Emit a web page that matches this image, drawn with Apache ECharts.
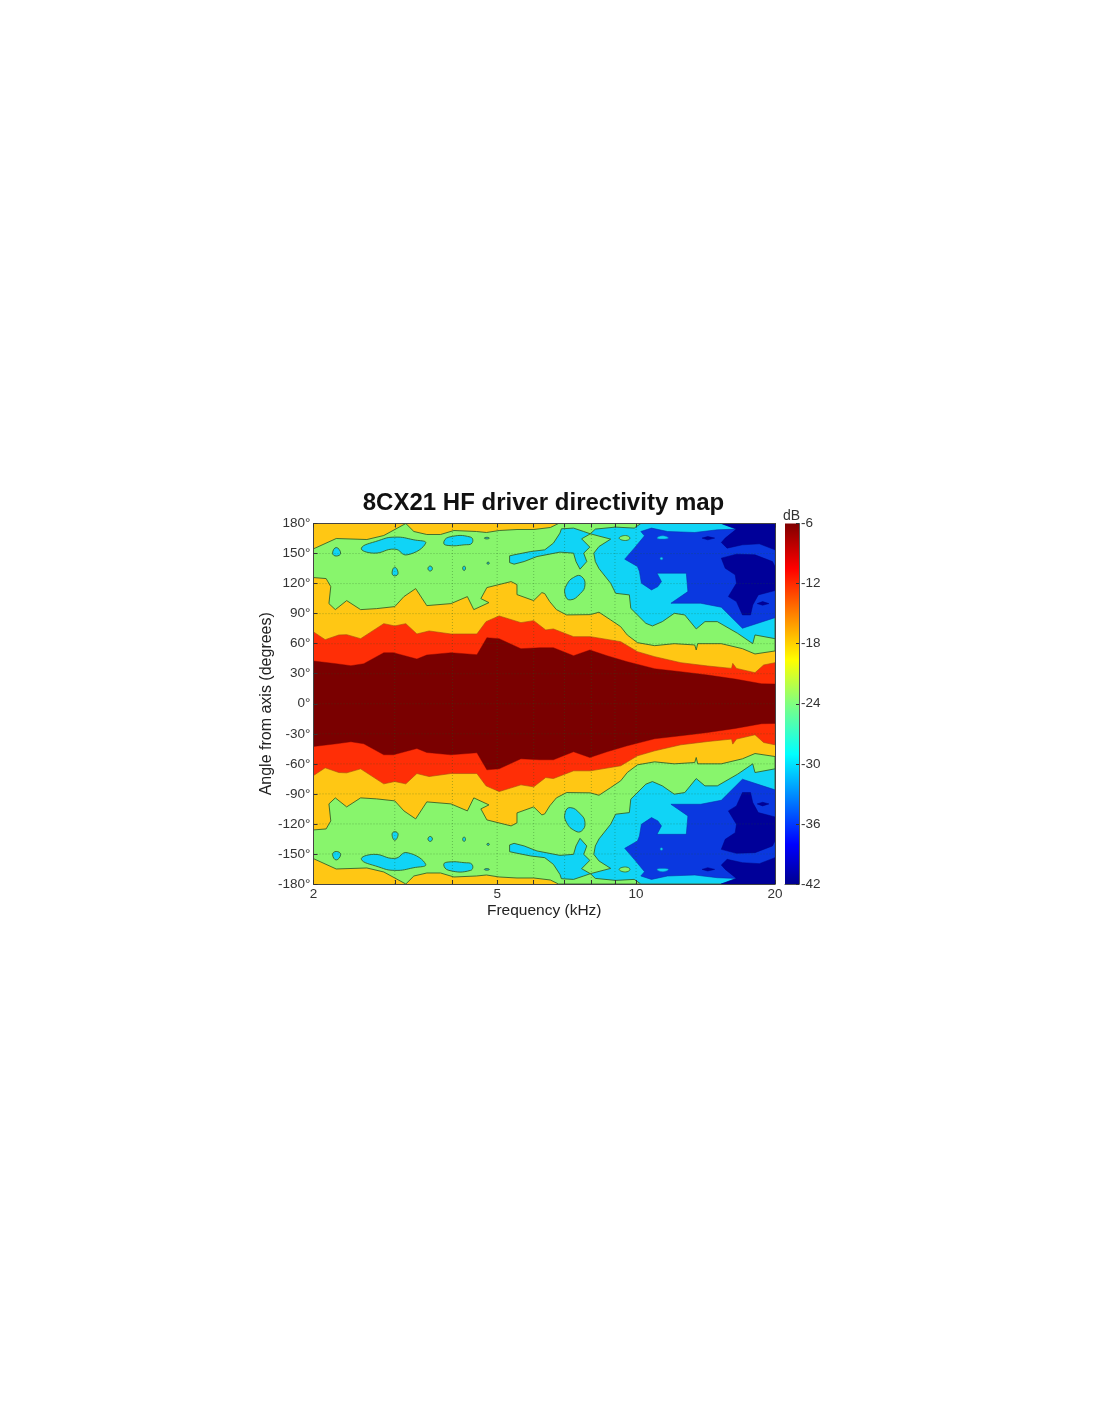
<!DOCTYPE html>
<html><head><meta charset="utf-8">
<style>html,body{margin:0;padding:0;background:#fff}#c{width:1100px;height:1422px;filter:blur(0.45px)}</style>
<script src="https://cdn.jsdelivr.net/npm/echarts@6/dist/echarts.min.js"></script>
</head><body><div id="c"></div>
<script>
// Contour outlines of the upper half, as [frequency kHz, angle deg]. The map is symmetric about 0 deg.
const plotBox = [[2,-180],[20,-180],[20,180],[2,180]];
const greenBand = [[2,154.7],[2.24,165],[2.61,164],[2.84,168],[3,174],[3.17,180],[3.3,172],[3.52,169],[3.77,169],[4.03,173],[4.51,172],[4.74,171],[5.05,173],[5.52,174],[6,174],[6.52,176],[6.79,180],[20,180],[20,52.7],[18.1,49.7],[17,55],[15.3,60],[13.6,60],[13.5,53.7],[13.4,58.7],[12.1,60],[10.97,58],[10.07,61],[9.57,68.7],[9.26,77],[8.81,83.7],[8.31,91.4],[7.96,89],[7.07,88.7],[6.72,94],[6.5,102],[6.34,110],[6.25,111],[6,103],[5.52,109],[5.52,119],[5.36,122],[4.75,116],[4.61,105],[4.8,101],[4.45,94],[4.31,107],[3.97,100],[3.52,98],[3.33,115],[3.14,107],[3,97],[2.74,95],[2.53,94],[2.36,103],[2.23,94],[2.16,100],[2.18,117],[2.13,125],[2,126]];
const cyanMain = [[5.32,147.7],[5.44,148.7],[5.91,152],[6.34,153.7],[6.62,160.4],[6.84,170.4],[6.89,174.7],[7.32,175.4],[7.7,172],[7.96,169.7],[8.16,174.4],[9.03,176.4],[9.91,175.4],[10.24,180],[20,180],[20,65],[18.1,68.7],[17.9,60],[16.6,70.3],[15,82],[14.1,82],[13.5,74.7],[12.75,88.7],[12.1,90.3],[11.4,82],[10.85,77.7],[10.5,80.3],[9.74,95.3],[9.67,108.7],[9.03,110.3],[8.81,120.3],[8.31,135],[8.16,142],[8.1,150.4],[8.31,157],[8.81,164.4],[7.96,169.7],[7.62,164.7],[7.94,156.4],[7.7,150.4],[7.82,142],[7.56,134.4],[7.41,142],[7.32,150.4],[6.84,151.4],[6.1,147],[5.72,142],[5.44,139.4],[5.32,141]];
const cyanIslands = [
  [[7.02,108.7],[7.07,118.7],[7.38,127],[7.62,127],[7.75,118.7],[7.57,110],[7.2,103.7]],
  [[2.54,155.4],[2.77,163],[3,166.4],[3.3,163.7],[3.5,160.4],[3.19,148.7],[3,154.4],[2.7,150.4]],
  [[3.83,160.4],[3.93,166.4],[4.38,166.4],[4.41,160.4],[4.24,158.7],[3.93,158]],
  [[2.2,150.4],[2.24,156],[2.29,150.4],[2.24,147.5]],
  [[2.96,130.4],[3,136.4],[3.05,130.4],[3,127.7]],
  [[3.54,135],[3.58,137.5],[3.62,135],[3.58,132.5]],
  [[4.69,165.4],[4.75,166.2],[4.81,165.4],[4.75,164.6]],
  [[4.21,135.4],[4.24,137.5],[4.27,135.4],[4.24,133]],
  [[4.75,140.4],[4.78,141.5],[4.81,140.4],[4.78,139.3]]
];
const greenIsland = [[9.19,165.4],[9.48,168],[9.7,165.4],[9.48,163]];
const blueMain = [[9.45,144.4],[9.91,155.4],[10.43,167.7],[10.24,172],[10.8,175.4],[11.7,172],[13.4,171],[15,173.7],[16.5,174.4],[15.3,180],[20,180],[20,86],[17,75.4],[15.3,96.4],[13.8,100.4],[11.9,100.4],[12.95,112],[12.85,130.4],[11.1,130.4],[11.35,122],[11.15,117],[10.8,113.7],[10.27,120.4],[10.17,132],[10.07,137]];
const cyanInBlue = [
  [[11.1,165.4],[11.4,167.7],[11.75,165.4],[11.35,164.4]],
  [[11.27,145],[11.35,146.3],[11.43,145],[11.35,143.7]]
];
const navyRegions = [
  [[15.3,180],[16.5,174.4],[15.6,165.4],[15.3,161],[15.75,155.4],[17,158.7],[18.5,159.7],[20,153.7],[20,180]],
  [[15.3,145.4],[16.5,149.4],[18.1,148.7],[19.75,142],[20,137],[20,113],[18.4,108.7],[17.9,98.7],[17.7,88.7],[17,88.7],[16.5,102],[15.85,107],[16.5,120.4],[16.4,128.7],[15.6,135.4]],
  [[18.3,100],[18.8,102],[19.4,100],[18.8,98.4]],
  [[13.9,165.4],[14.3,167],[14.8,165.4],[14.3,163.7]]
];
const redEdge = [[2,71.7],[2.12,64],[2.27,68.7],[2.36,69],[2.53,65],[2.84,80],[3,77.7],[3.17,80],[3.35,69.7],[3.56,72.7],[3.97,69.7],[4.52,69.7],[4.73,82],[5.05,87.7],[5.63,81],[6,83],[6.37,73.7],[6.62,74.7],[7.32,67],[7.96,67],[9.26,62],[10.07,52],[10.97,47],[12.5,41],[14.3,37.7],[16.1,35.3],[16.2,40.3],[16.5,35.3],[18.1,31],[18.9,38.7],[20,41]];
const darkRedEdge = [[2,42.7],[2.24,40],[2.41,38],[2.57,40],[2.84,51],[2.98,51],[3.35,44.7],[3.52,48.7],[3.97,51],[4.52,49],[4.75,66],[5.05,65],[5.63,55],[6.19,56],[6.62,56],[7.32,48],[7.94,53.7],[8.65,48],[9.57,42],[10.97,35],[12.5,32],[14.3,28.7],[16.4,24.7],[18.7,20],[20,19.7]];

const freqGrid = [3,4,5,6,7,8,9,10];
const freqLabels = [2,5,10,20];
const angleGrid = [-150,-120,-90,-60,-30,0,30,60,90,120,150];
const cbarRange = [-42,-6];
const cbarStops = ['#00008f','#0000ff','#00ffff','#80ff80','#ffff00','#ff8000','#ff0000','#800000'];
const cbarOffsets = [0,0.11,0.36,0.5,0.62,0.75,0.875,1];

const mirror = p => p.map(([f,a]) => [f,-a]);
const both = list => list.concat(list.map(mirror));
const closed = e => e.concat(mirror(e).reverse());

function band(name, polys, fill, stroke, lw, smooth){
  const rows = [], starts = {};
  polys.forEach((p,i) => { starts[rows.length] = i; p.forEach(v => rows.push([v[0],v[1]])); });
  return {
    type:'custom', name, coordinateSystem:'cartesian2d', xAxisIndex:0, yAxisIndex:0,
    silent:true, clip:true, animation:false, data:rows, encode:{x:0,y:1},
    renderItem:(params,api) => {
      const i = starts[params.dataIndex];
      if (i === undefined) return null;
      return {type:'polygon', shape:{points:polys[i].map(v => api.coord(v)), smooth:smooth||0},
        style:{fill, stroke:stroke||fill, lineWidth:lw, lineJoin:'round'}};
    }
  };
}
function gridLine(a,b){
  return {type:'line', data:[a,b], xAxisIndex:0, yAxisIndex:0, symbol:'none', silent:true, animation:false,
    lineStyle:{color:'rgba(30,90,30,0.45)', width:0.8, type:[1,2]}};
}

const OUT='#35632a';
const series = [
  band('orange',[plotBox],'#ffc714'),
  band('green',both([greenBand]),'#88f56c',OUT,0.9),
  band('cyan',both([cyanMain]),'#10d4f6',OUT,0.9),
  band('cyanIslands',both(cyanIslands),'#10d4f6',OUT,0.9,0.5),
  band('greenIsland',both([greenIsland]),'#88f56c',OUT,0.8,0.5),
  band('blue',both([blueMain]),'#0a38e0','#0a2fb0',0.6),
  band('cyanInBlue',both(cyanInBlue),'#10d4f6','#0a70b0',0.5,0.5),
  band('navy',both(navyRegions),'#000099','#000080',0.5)
];
freqGrid.forEach(f => series.push(gridLine([f,-180],[f,180])));
angleGrid.forEach(a => series.push(gridLine([2,a],[20,a])));
series.push(
  band('red',[closed(redEdge)],'#ff2e06','#a84a10',0.6),
  band('darkRed',[closed(darkRedEdge)],'#7a0000','#7a0000',0.4),
  {
    type:'custom', name:'colorbar', coordinateSystem:'cartesian2d', xAxisIndex:2, yAxisIndex:2, silent:true, animation:false,
    data:[[0,cbarRange[0],1,cbarRange[1]]], encode:{x:[0,2],y:[1,3]},
    renderItem:(params,api) => {
      const a = api.coord([api.value(0),api.value(1)]), b = api.coord([api.value(2),api.value(3)]);
      return {type:'rect', shape:{x:a[0],y:b[1],width:b[0]-a[0],height:a[1]-b[1]},
        style:{fill:new echarts.graphic.LinearGradient(0,1,0,0,cbarStops.map((color,i)=>({offset:cbarOffsets[i],color})))}};
    }
  }
);

const txt = '#333';
const font = '"Liberation Sans", Arial, sans-serif';
const chart = echarts.init(document.getElementById('c'), null, {renderer:'canvas'});
const tickSet = [2,3,4,5,6,7,8,9,10,20];
chart.setOption({
  backgroundColor:'#fff', animation:false,
  title:[
    {text:'8CX21 HF driver directivity map', left:538.5, top:486, textAlign:'center',
     textStyle:{fontFamily:font, fontWeight:'bold', fontSize:24, color:'#111'}},
    {text:'dB', left:786.5, top:504, textAlign:'center', textStyle:{fontFamily:font, fontWeight:'normal', fontSize:14, color:txt}}
  ],
  grid:[
    {left:313.5, top:523.5, width:461.5, height:360.5, containLabel:false},
    {left:785, top:523.5, width:14, height:360.5, containLabel:false}
  ],
  xAxis:[
    {type:'log', logBase:10, min:2, max:20, gridIndex:0, position:'bottom', z:10,
     name:'Frequency (kHz)', nameLocation:'middle', nameGap:19,
     nameTextStyle:{fontFamily:font, fontSize:15.5, color:'#222'},
     axisLine:{show:true, onZero:false, lineStyle:{color:'#444', width:1}},
     axisTick:{show:true, inside:true, length:4, customValues:tickSet, lineStyle:{color:'#333'}},
     axisLabel:{show:true, customValues:freqLabels, fontFamily:font, fontSize:13.5, color:txt, margin:3},
     splitLine:{show:false}, minorTick:{show:false}},
    {type:'log', logBase:10, min:2, max:20, gridIndex:0, position:'top', z:10,
     axisLine:{show:true, onZero:false, lineStyle:{color:'#444', width:1}},
     axisTick:{show:true, inside:true, length:4, customValues:tickSet, lineStyle:{color:'#333'}},
     axisLabel:{show:false}, splitLine:{show:false}},
    {type:'value', min:0, max:1, gridIndex:1, position:'bottom', z:10,
     axisLine:{show:true, onZero:false, lineStyle:{color:'#555'}}, axisTick:{show:false}, axisLabel:{show:false}, splitLine:{show:false}}
  ],
  yAxis:[
    {type:'value', min:-180, max:180, interval:30, gridIndex:0, position:'left', z:10,
     name:'Angle from axis (degrees)', nameLocation:'middle', nameGap:35, nameRotate:90,
     nameTextStyle:{fontFamily:font, fontSize:16, color:'#222'},
     axisLine:{show:true, onZero:false, lineStyle:{color:'#444', width:1}},
     axisTick:{show:true, inside:true, length:4, lineStyle:{color:'#333'}},
     axisLabel:{fontFamily:font, fontSize:13.5, color:txt, margin:3, formatter:v => v+'°'},
     splitLine:{show:false}},
    {type:'value', min:-180, max:180, interval:30, gridIndex:0, position:'right', z:10,
     axisLine:{show:true, onZero:false, lineStyle:{color:'#444', width:1}},
     axisTick:{show:false}, axisLabel:{show:false}, splitLine:{show:false}},
    {type:'value', min:cbarRange[0], max:cbarRange[1], interval:6, gridIndex:1, position:'right', z:10,
     axisLine:{show:true, onZero:false, lineStyle:{color:'#555'}},
     axisTick:{show:true, inside:true, length:3, lineStyle:{color:'#333'}},
     axisLabel:{fontFamily:font, fontSize:13.5, color:txt, margin:2},
     splitLine:{show:false}}
  ],
  series
});
</script></body></html>
